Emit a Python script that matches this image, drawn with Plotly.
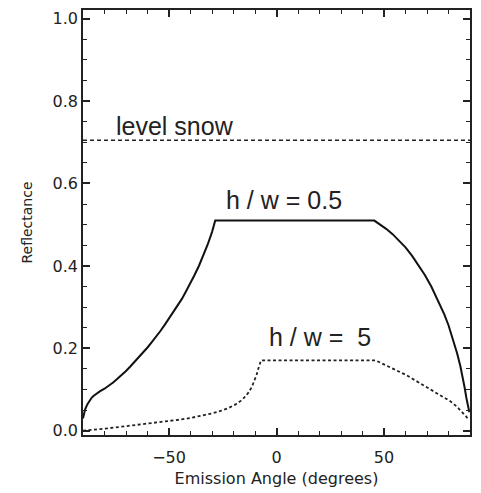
import plotly.graph_objects as go

# Data
snow_x = [-90, 90]
snow_y = [0.705, 0.705]

hw05_x = [-90, -89.5, -89, -88, -87, -86, -85, -84, -82, -80, -78, -76, -74, -72, -70, -68, -66, -64, -62, -60,
          -58, -56, -54, -52, -50, -48, -46, -44, -42, -40, -38, -36, -34, -32, -30, -28.5,
          45.5, 48, 51, 54, 57, 60, 63, 66, 69, 72, 75, 78, 80, 82, 84, 85.5, 86.5, 87.5, 88.3, 89, 89.7]
hw05_y = [0.03, 0.042, 0.052, 0.064, 0.073, 0.080, 0.085, 0.089, 0.096, 0.102, 0.109, 0.117, 0.126, 0.135, 0.145,
          0.156, 0.167, 0.178, 0.190, 0.202, 0.215, 0.228, 0.242, 0.257, 0.272, 0.287, 0.303, 0.320, 0.339, 0.358,
          0.379, 0.401, 0.425, 0.452, 0.482, 0.51,
          0.51, 0.501, 0.490, 0.477, 0.462, 0.445, 0.425, 0.403, 0.378, 0.350, 0.318, 0.283, 0.256, 0.224, 0.188,
          0.157, 0.133, 0.105, 0.08, 0.062, 0.045]

hw5_x = [-90, -85, -80, -75, -70, -65, -60, -55, -50, -45, -40, -35, -30, -26, -22, -19, -16.5, -14.5, -13, -11.5,
         -10.3, -9.3, -8.5, -7.8, -7.2,
         46, 48, 51, 54, 57, 60, 63, 66, 69, 72, 75, 78, 81, 84, 86, 88, 89.3]
hw5_y = [0.0, 0.002, 0.005, 0.008, 0.011, 0.014, 0.017, 0.020, 0.023, 0.027, 0.031, 0.036, 0.042, 0.048, 0.056,
         0.064, 0.073, 0.083, 0.093, 0.106, 0.120, 0.135, 0.150, 0.163, 0.171,
         0.171, 0.166, 0.159, 0.152, 0.144, 0.136, 0.127, 0.118, 0.109, 0.100, 0.091, 0.082, 0.071, 0.058, 0.048,
         0.036, 0.027]

labels = ["level snow", "h / w = 0.5", "h / w =\u00a0 5"]
label_x = [-47.4, 3.5, 20]
label_y = [0.74, 0.559, 0.227]

fig = go.Figure()
fig.add_trace(go.Scatter(x=snow_x, y=snow_y, mode="lines",
                         line=dict(color="#222", width=1.6, dash="4px,3px")))
fig.add_trace(go.Scatter(x=hw05_x, y=hw05_y, mode="lines",
                         line=dict(color="#111", width=2)))
fig.add_trace(go.Scatter(x=hw5_x, y=hw5_y, mode="lines",
                         line=dict(color="#222", width=1.8, dash="3px,2.5px")))

for t, x, y in zip(labels, label_x, label_y):
    fig.add_annotation(x=x, y=y, text=t, showarrow=False, xanchor="center", yanchor="middle",
                       font=dict(family="Liberation Sans, Arial", size=25, color="#222"))

axis_common = dict(showline=True, linecolor="#222", linewidth=1.6, mirror="ticks",
                   ticks="inside", tickcolor="#222", tickwidth=1.5, ticklen=7,
                   showgrid=False, zeroline=False,
                   tickfont=dict(family="DejaVu Sans", size=16, color="#222"))

fig.update_xaxes(range=[-90, 90], dtick=50, tick0=0, ticklabelstandoff=7,
                 minor=dict(dtick=10, ticks="inside", ticklen=4, tickcolor="#222", tickwidth=1.2),
                 title=dict(text="Emission Angle (degrees)", font=dict(family="DejaVu Sans", size=16, color="#222"),
                            standoff=7),
                 **axis_common)
fig.update_yaxes(range=[-0.0103, 1.0209], dtick=0.2, tick0=0, tickformat=".1f",
                 minor=dict(dtick=0.05, ticks="inside", ticklen=4, tickcolor="#222", tickwidth=1.2),
                 title=dict(text="Reflectance", font=dict(family="DejaVu Sans", size=14, color="#222"),
                            standoff=17),
                 **axis_common)

fig.update_layout(width=481, height=493, margin=dict(l=83, r=11, t=8, b=56),
                  plot_bgcolor="white", paper_bgcolor="white", showlegend=False)

fig.write_html("out.html")
